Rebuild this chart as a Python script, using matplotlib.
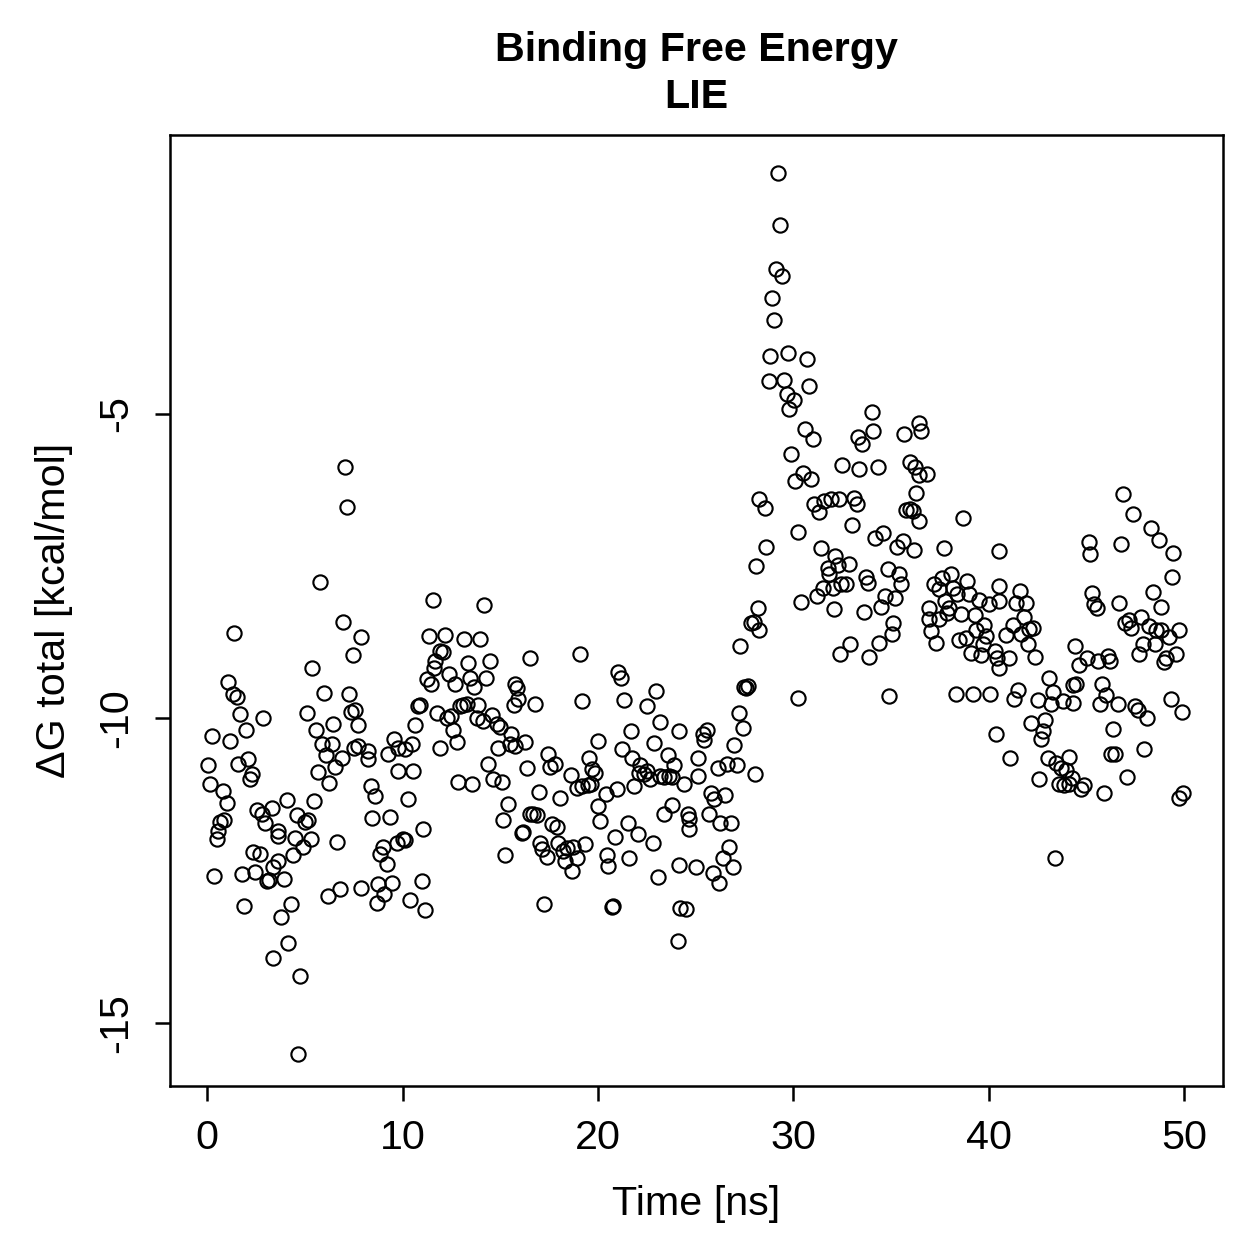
import matplotlib
matplotlib.use("Agg")
from matplotlib import pyplot as plt

plt.rcParams['font.family'] = ['Liberation Sans', 'DejaVu Sans']
plt.rcParams['axes.unicode_minus'] = False

# time [ns] and dG total [kcal/mol]
time_ns = [
    0.05, 0.15, 0.26, 0.36, 0.5, 0.56, 0.67, 0.87, 0.8, 1.0, 1.08, 1.18, 1.3, 1.38, 1.5, 1.6, 1.7, 1.8, 1.9, 2.0,
    2.1, 2.2, 2.3, 2.36, 2.46, 2.56, 2.7, 2.82, 2.87, 2.97, 3.07, 3.18, 3.33, 3.38, 3.38, 3.6, 3.64, 3.64, 3.79,
    3.94, 4.1, 4.15, 4.3, 4.4, 4.5, 4.61, 4.66, 4.76, 4.92, 5.02, 5.12, 5.17, 5.33, 5.38, 5.48, 5.58, 5.69, 5.79,
    5.9, 6.0, 6.1, 6.2, 6.25, 6.4, 6.45, 6.56, 6.66, 6.81, 6.9, 6.97, 7.07, 7.17, 7.27, 7.38, 7.48, 7.53, 7.58,
    7.74, 7.74, 7.89, 7.89,
    8.25, 8.25, 8.4, 8.45, 8.6, 8.71, 8.76, 8.86, 9.02, 9.07, 9.22, 9.27, 9.38, 9.48, 9.58, 9.73, 9.78, 9.78,
    10.04, 10.14, 10.14, 10.3, 10.4, 10.5, 10.55, 10.66, 10.81, 10.9, 11.01, 11.07, 11.17, 11.27, 11.37, 11.48,
    11.58, 11.63, 11.68, 11.78, 11.94, 11.94,
    12.09, 12.19, 12.3, 12.4, 12.5, 12.6, 12.7, 12.81, 12.86, 12.96, 13.11, 13.17, 13.32, 13.37, 13.47, 13.58,
    13.68, 13.83, 13.88, 13.99, 14.14, 14.19, 14.29, 14.4, 14.5, 14.6, 14.65, 14.86, 14.91, 15.0, 15.11, 15.16,
    15.27, 15.42, 15.52, 15.57, 15.73, 15.78, 15.78, 15.88, 15.93, 16.09,
    16.19, 16.29, 16.39, 16.5, 16.55, 16.7, 16.8, 16.9, 16.96, 17.06, 17.16, 17.26, 17.42, 17.47, 17.57, 17.67,
    17.83, 17.93, 17.98, 18.08, 18.19, 18.34, 18.44, 18.6, 18.7, 18.75, 18.95, 18.95, 19.1, 19.2, 19.21, 19.36,
    19.47, 19.57, 19.67, 19.72, 19.83, 20.0, 20.03, 20.13,
    20.39, 20.49, 20.54, 20.7, 20.75, 20.9, 20.99, 21.05, 21.2, 21.26, 21.36, 21.52, 21.57, 21.67, 21.77, 21.87,
    22.03, 22.08, 22.18, 22.34, 22.49, 22.54, 22.69, 22.8, 22.85, 23.0, 23.1, 23.2, 23.2, 23.36, 23.36, 23.57,
    23.62, 23.77, 23.77, 23.92, 24.08, 24.13, 24.13, 24.2,
    24.39, 24.5, 24.59, 24.64, 24.69, 25.0, 25.1, 25.15, 25.36, 25.41, 25.61, 25.67, 25.77, 25.87, 25.97, 26.13,
    26.18, 26.23, 26.38, 26.49, 26.6, 26.7, 26.79, 26.9, 26.95, 27.1, 27.2, 27.3, 27.41, 27.46, 27.56, 27.66,
    27.82, 27.97, 28.02, 28.2, 28.23,
    28.07, 28.23, 28.53, 28.59, 28.74, 28.79, 28.89, 29.0, 29.1, 29.2, 29.3, 29.41, 29.51, 29.66, 29.71, 29.76,
    29.87, 30.02, 30.07, 30.23, 30.23, 30.38, 30.48, 30.58, 30.69, 30.79, 30.89, 30.99, 31.04, 31.2, 31.3, 31.4,
    31.51, 31.56, 31.76, 31.81, 31.92, 32.02, 32.07, 32.12, 32.27, 32.33, 32.43,
    32.38, 32.48, 32.69, 32.84, 32.89, 32.99, 33.09, 33.25, 33.3, 33.35, 33.5, 33.61, 33.71, 33.81, 33.86, 34.02,
    34.07, 34.17, 34.32, 34.37, 34.48, 34.58, 34.68, 34.84, 34.89, 35.04, 35.09, 35.2, 35.3, 35.4, 35.5, 35.6,
    35.66, 35.76, 35.96, 35.96, 36.12, 36.17, 36.22, 36.27, 36.42, 36.42, 36.42, 36.53,
    36.83, 36.93, 36.93, 37.04, 37.19, 37.29, 37.45, 37.45, 37.6, 37.7, 37.75, 37.86, 37.96, 38.06, 38.17, 38.32,
    38.37, 38.47, 38.58, 38.68, 38.83, 38.88, 38.98, 39.09, 39.19, 39.29, 39.34, 39.5, 39.6, 39.7, 39.75, 39.86,
    40.01, 40.06, 40.32, 40.42, 40.52, 40.52, 40.52,
    40.37, 40.52, 40.88, 41.03, 41.09, 41.24, 41.29, 41.39, 41.5, 41.6, 41.65, 41.8, 41.9, 42.0, 42.06, 42.16,
    42.26, 42.37, 42.52, 42.57, 42.67, 42.78, 42.88, 43.03, 43.08, 43.19, 43.29, 43.39, 43.44, 43.6, 43.7, 43.8,
    43.85, 43.96, 44.11, 44.11, 44.26, 44.3, 44.3, 44.42, 44.47, 44.62, 44.72,
    44.9, 45.03, 45.13, 45.18, 45.29, 45.39, 45.54, 45.6, 45.7, 45.8, 45.9, 46.0, 46.1, 46.2, 46.26, 46.36,
    46.47, 46.62, 46.67, 46.77, 46.87, 46.98, 47.08, 47.18, 47.29, 47.39, 47.49, 47.64, 47.7, 47.8, 47.9, 47.95,
    48.1, 48.2, 48.3, 48.41, 48.51, 48.57, 48.72, 48.82, 48.82, 48.98, 49.08, 49.23, 49.33, 49.39, 49.44, 49.59,
    49.74, 49.74, 49.9, 49.95,
]

dg_total = [
    -10.76, -11.07, -10.29, -12.59, -11.98, -11.85, -11.7, -11.67, -11.19, -11.39, -9.4, -10.37, -9.6, -8.6, -9.65,
    -10.75, -9.93, -12.55, -13.08, -10.19, -10.66, -11.0, -10.91, -12.19, -12.52, -11.5, -12.22, -11.57, -10.0,
    -11.72, -12.67, -12.65, -11.47, -12.44, -13.93, -11.85, -11.93, -12.34, -13.26,
    -12.64, -11.34, -13.69, -13.05, -12.24, -11.96, -11.58, -15.51, -14.23, -12.11, -11.7, -9.91, -11.66, -11.98,
    -9.17, -11.36, -10.19, -10.88, -7.76, -10.42, -9.58, -10.6, -12.91, -11.06, -10.42, -10.09, -10.8, -12.03,
    -12.8, -10.64, -8.42, -5.88, -6.53, -9.6, -9.89, -8.96, -10.48, -9.86, -10.11, -10.45, -8.66, -12.78,
    -10.53, -10.66, -11.1, -11.63, -11.27, -13.03, -12.72, -12.22, -12.11, -12.88, -12.39, -10.58, -11.62, -12.7,
    -10.34, -12.04, -10.48, -10.86, -11.98, -10.5, -12.0, -11.32, -12.98, -10.42, -10.86, -10.11, -9.79, -9.78,
    -12.67, -11.81, -13.14, -9.35, -8.65, -9.43, -8.05, -9.17, -9.06, -9.91, -8.89, -10.48,
    -8.91, -8.63, -9.99, -9.27, -9.96, -10.19, -9.43, -10.39, -11.04, -9.8, -9.78, -8.69, -9.77, -9.09, -9.33,
    -11.08, -9.48, -9.99, -9.78, -8.69, -10.04, -8.14, -9.33, -10.75, -9.06, -9.94, -11.0, -10.09, -10.48, -10.14,
    -11.04, -11.67, -12.24, -11.4, -10.42, -10.25, -9.78, -9.43, -10.45, -9.5, -9.68, -11.88,
    -11.86, -10.39, -10.81, -9.01, -11.57, -11.57, -9.76, -11.58, -11.21, -12.04, -12.14, -13.05, -12.27, -10.58,
    -10.8, -11.73, -10.75, -11.78, -12.04, -11.31, -12.17, -12.34, -12.13, -10.93, -12.5, -12.11, -11.14, -12.29,
    -8.94, -9.71, -11.1, -12.06, -11.09, -10.65, -11.08, -10.83, -10.89, -10.37, -11.44, -11.68,
    -11.24, -12.24, -12.42, -13.1, -13.08, -11.95, -11.16, -9.24, -9.33, -10.5, -9.7, -11.71, -12.29, -10.2,
    -10.65, -11.11, -11.9, -10.89, -10.76, -10.91, -9.8, -10.86, -10.99, -12.04, -10.4, -9.55, -12.6, -10.06,
    -10.94, -10.96, -11.57, -10.6, -10.94, -10.96, -11.42, -10.76, -13.65, -10.2, -12.41, -13.11,
    -11.08, -13.13, -11.57, -11.81, -11.65, -12.44, -10.65, -10.94, -10.25, -10.35, -10.19, -11.57, -11.22,
    -12.54, -11.32, -10.81, -12.7, -11.72, -12.29, -11.26, -10.75, -12.11, -11.72, -12.44, -10.44, -10.76, -9.91,
    -8.81, -10.16, -9.48, -9.5, -9.47, -8.43, -8.42, -10.91, -8.19, -8.55,
    -7.5, -6.4, -6.54, -7.18, -4.47, -4.06, -3.1, -3.47, -2.62, -1.06, -1.91, -2.75, -4.44, -4.67, -4.0, -4.93,
    -5.66, -4.77, -6.1, -6.94, -9.66, -8.09, -5.97, -5.26, -4.11, -4.54, -6.07, -5.41, -6.48, -7.99, -6.61, -7.2,
    -7.86, -6.44, -7.53, -7.63, -6.4, -7.86, -8.2, -7.33, -7.48, -6.4, -7.79,
    -8.94, -5.85, -7.79, -7.46, -8.78, -6.82, -6.38, -6.48, -5.39, -5.9, -5.49, -8.25, -7.68, -7.77, -8.99, -4.98,
    -5.28, -7.04, -5.87, -8.76, -8.17, -6.95, -7.99, -7.55, -9.63, -8.61, -8.43, -8.02, -7.18, -7.63, -7.79, -7.09,
    -5.33, -6.58, -6.56, -5.79, -6.59, -7.23, -5.87, -6.3, -5.15, -6.0, -6.76, -5.28,
    -5.99, -8.19, -8.37, -8.56, -7.79, -8.76, -7.87, -8.37, -7.69, -7.2, -8.07, -8.27, -8.19, -7.63, -7.86, -9.6,
    -7.96, -8.71, -8.28, -6.71, -8.68, -7.74, -7.96, -8.92, -9.6, -8.3, -8.55, -8.05, -8.96, -8.78, -8.46, -8.65,
    -8.12, -9.6, -8.89, -9.0, -7.25, -7.82, -8.07,
    -10.25, -9.17, -8.63, -9.0, -10.65, -8.46, -9.68, -8.1, -9.53, -7.91, -8.61, -8.33, -8.1, -8.78, -8.53,
    -10.07, -8.51, -8.99, -9.7, -11.0, -10.34, -10.2, -10.02, -10.65, -9.34, -9.76, -9.57, -12.29, -10.73, -11.08,
    -10.81, -9.71, -11.09, -10.85, -10.63, -11.08, -10.98, -9.45, -9.75, -8.81, -9.43, -9.12, -11.16,
    -11.09, -9.0, -7.1, -7.3, -7.94, -8.12, -8.19, -9.06, -9.76, -9.43, -11.22, -9.61, -8.97, -9.06, -10.58,
    -10.17, -10.58, -9.76, -8.1, -7.13, -6.31, -8.43, -10.96, -8.38, -8.51, -6.64, -9.79, -9.86, -8.94, -8.33,
    -8.78, -10.5, -10.0, -8.48, -6.87, -7.92, -8.78, -8.55, -7.07, -8.17, -8.55, -9.07, -9.0, -8.66, -9.68, -7.68,
    -7.28, -8.94, -8.55, -11.3, -9.89, -11.22,
]

x_ticks = [0, 10, 20, 30, 40, 50]
y_ticks = [-15, -10, -5]

fig = plt.figure(figsize=(7, 7), dpi=180)
ax = fig.add_axes([0.135, 0.138, 0.8356, 0.7546])

ax.plot(time_ns, dg_total, linestyle='none', marker='o', markersize=5.7,
        markerfacecolor='none', markeredgecolor='black', markeredgewidth=0.85)

ax.set_xlim(-1.9, 52.0)
ax.set_ylim(-16.03, -0.435)
ax.set_xticks(x_ticks)
ax.set_yticks(y_ticks)
ax.set_yticklabels([str(v) for v in y_ticks], rotation=90, va='center')

for s in ax.spines.values():
    s.set_linewidth(1.0)
ax.tick_params(direction='out', length=6, width=1.0, labelsize=16.5)
ax.tick_params(axis='x', pad=7)
ax.tick_params(axis='y', pad=8)

ax.set_xlabel("Time [ns]", fontsize=16.5)
ax.set_ylabel("ΔG total [kcal/mol]", fontsize=16.5)
ax.xaxis.set_label_coords(0.5, -0.104)
ax.yaxis.set_label_coords(-0.092, 0.5)

ax.set_title("Binding Free Energy\nLIE", fontsize=16.5, fontweight='bold',
             pad=11, linespacing=1.3)

fig.savefig("out.png", dpi=180)
